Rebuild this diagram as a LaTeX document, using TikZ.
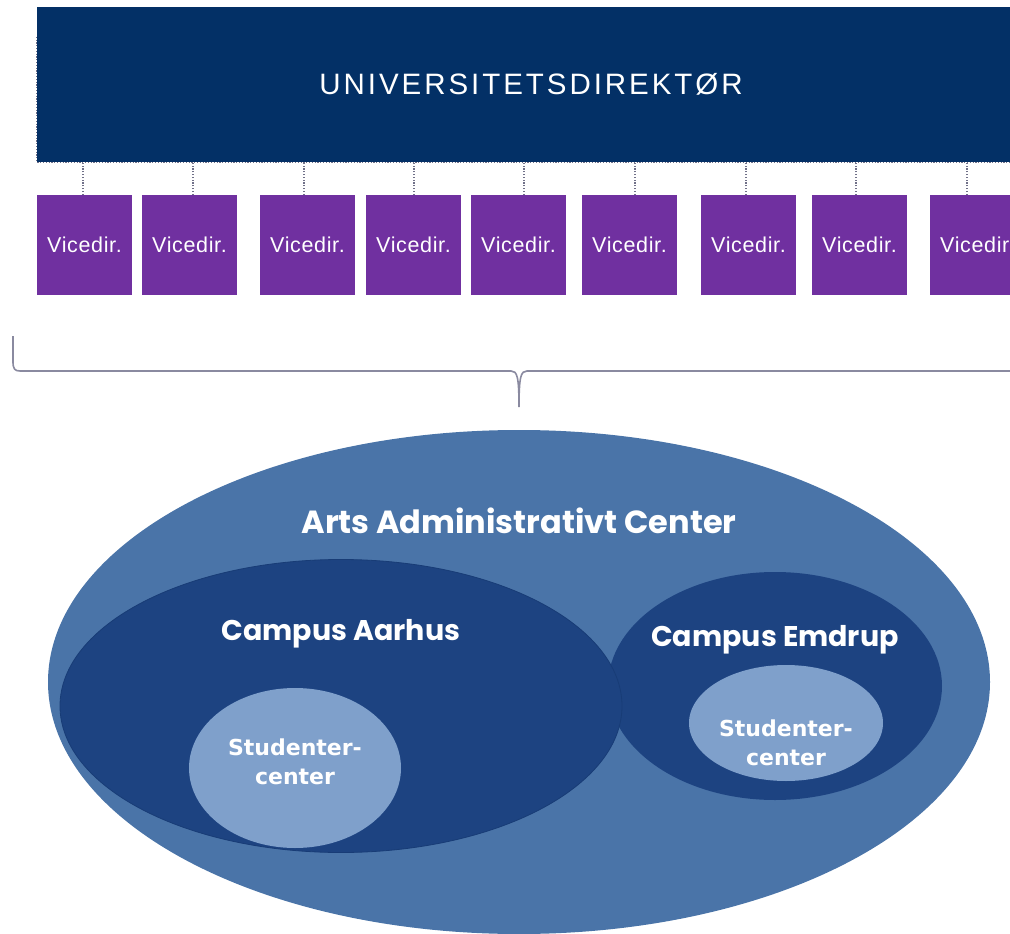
\documentclass[tikz,border=0pt]{standalone}
\usepackage{fontspec}
\setmainfont{Liberation Sans}
\newfontfamily\titlefont[LetterSpace=10]{Liberation Sans}
\newfontfamily\vicefont[LetterSpace=3]{Liberation Sans}
\newfontfamily\geofont{Poppins}
\newfontfamily\heavyfont{DejaVu Sans}
\usetikzlibrary{shapes.geometric}
\definecolor{topblue}{HTML}{033066}
\definecolor{vpurple}{HTML}{7030A0}
\definecolor{artsblue}{HTML}{4A74A8}
\definecolor{campusblue}{HTML}{1D4381}
\definecolor{campusedge}{HTML}{183C76}
\definecolor{lightblue}{HTML}{7FA0CB}
\definecolor{bracketgray}{HTML}{8A8AA0}
\definecolor{dotgray}{HTML}{707088}
\tikzset{
  topbox/.style={fill=topblue, text=white, minimum width=988pt, minimum height=155pt, inner sep=0pt, font=\titlefont\fontsize{29.5}{34}\selectfont},
  vicebox/.style={fill=vpurple, text=white, minimum width=95pt, minimum height=100pt, inner sep=0pt, font=\vicefont\fontsize{21.5}{26}\selectfont},
  conn/.style={draw=dotgray, line width=1.2pt, dash pattern=on 1.2pt off 1.6pt},
  bracketline/.style={draw=bracketgray, line width=1.6pt},
  oval/.style={ellipse, inner sep=0pt},
  geolabel/.style={text=white, inner sep=0pt, font=\geofont\bfseries\fontsize{28.5}{34}\selectfont},
  biglabel/.style={geolabel, font=\geofont\bfseries\fontsize{32}{38}\selectfont},
  heavylabel/.style={text=white, inner sep=0pt, align=center, font=\heavyfont\bfseries\fontsize{22}{29}\selectfont}
}
\begin{document}
\begin{tikzpicture}[x=1pt,y=-1pt]
\useasboundingbox (0,0) rectangle (1010,934);
\clip (0,0) rectangle (1010,934);

% top box
\node[topbox] (dir) at (531,84.5) {UNIVERSITETSDIREKTØR};
\draw[conn] ([yshift=-30pt]dir.north west) -- (dir.south west) -- (dir.south east);

% vicedirektører
\foreach \i/\x/\o in {1/84.5/-1.5, 2/189.5/3.5, 3/307.5/-3.5, 4/413.5/0.5, 5/518.5/5.5, 6/629.5/5.5, 7/748.5/-2.5, 8/859.5/-3.5, 9/977.5/-10.5}{
  \node[vicebox] (v\i) at (\x,245) {Vicedir.};
  \draw[conn] ([xshift=\o pt]v\i.north) -- ([xshift=\o pt]v\i.north |- dir.south);
}

% bracket
\coordinate (bl) at (13,336);
\coordinate (bt) at (519,407);
\coordinate (br) at (1015,371);
\draw[bracketline] (bl) -- (13,362) .. controls (13,369) and (15,371) .. (20,371) -- (511,371)
  .. controls (517,371) and (519,376) .. (bt)
  .. controls (519,376) and (521,371) .. (527,371) -- (br);

% ellipses
\node[oval, fill=artsblue, minimum width=942pt, minimum height=504pt] (arts) at (519,682) {};
\node[biglabel] (artslabel) at (519,521) {Arts Administrativt Center};

\node[oval, fill=campusblue, minimum width=334pt, minimum height=228pt] (emdrup) at (775,686) {};
\node[oval, fill=campusblue, draw=campusedge, line width=0.8pt, minimum width=562pt, minimum height=293pt] (aarhus) at (341,706) {};

\node[geolabel] (aarhuslabel) at (341,634) {Campus Aarhus};
\node[geolabel] (emdruplabel) at (775,640) {Campus Emdrup};

\node[oval, fill=lightblue, minimum width=212pt, minimum height=160pt] (sc1) at (295,768) {};
\node[heavylabel] (sc1label) at (295,762) {Studenter-\\center};

\node[oval, fill=lightblue, minimum width=194pt, minimum height=116pt] (sc2) at (786,723) {};
\node[heavylabel] (sc2label) at (786,743) {Studenter-\\center};
\end{tikzpicture}
\end{document}
